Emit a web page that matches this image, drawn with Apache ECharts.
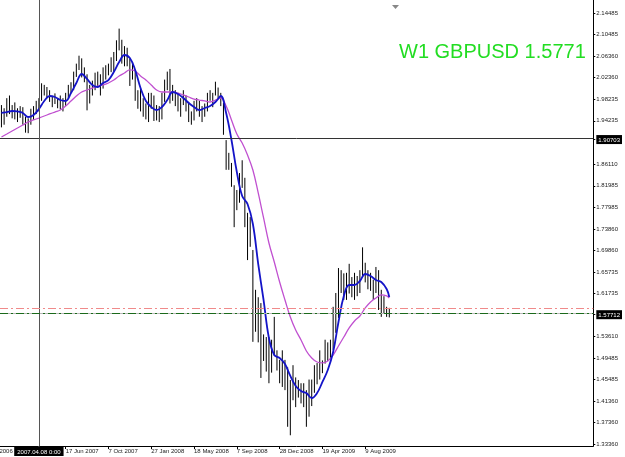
<!DOCTYPE html>
<html><head><meta charset="utf-8">
<script src="https://cdn.jsdelivr.net/npm/echarts@6/dist/echarts.min.js"></script>
<style>html,body{margin:0;padding:0;background:#fff;overflow:hidden}#c{width:625px;height:457px}</style>
</head><body><div id="c"></div>
<script>
// week index 0 = 2007.04.08 (weekly GBPUSD bars)
const firstWeek = -14;
const highs = [1.972,1.966,1.985,1.990,1.972,1.977,1.966,1.970,1.968,1.950,1.947,1.965,1.970,1.980,
1.985,2.013,2.010,2.006,2.000,1.988,1.994,1.985,1.990,1.985,
1.995,2.010,2.015,2.035,2.050,2.065,2.060,2.043,2.030,2.010,
2.018,2.033,2.035,2.030,2.043,2.047,2.050,2.062,2.072,2.094,
2.116,2.095,2.083,2.080,2.060,2.050,2.037,2.000,2.005,1.985,
1.975,1.995,1.995,1.990,1.972,1.970,1.995,2.020,2.035,2.040,
2.010,2.000,1.995,1.985,2.000,1.990,1.978,1.960,1.980,1.985,
1.980,1.970,1.975,1.995,2.000,1.995,2.016,2.005,1.995,1.976,
1.906,1.882,1.863,1.821,1.812,1.844,1.868,1.835,1.769,1.761,
1.699,1.624,1.610,1.599,1.540,1.535,1.535,1.530,1.573,1.510,
1.492,1.510,1.492,1.478,1.454,1.482,1.459,1.454,1.448,1.448,
1.435,1.455,1.455,1.482,1.486,1.510,1.491,1.530,1.525,1.530,
1.592,1.618,1.665,1.661,1.655,1.656,1.673,1.648,1.656,1.650,
1.661,1.704,1.675,1.661,1.656,1.643,1.667,1.661,1.624,1.612,
1.592,1.590];
const lows = [1.930,1.935,1.950,1.955,1.947,1.945,1.940,1.948,1.935,1.920,1.919,1.935,1.944,1.955,
1.960,1.980,1.990,1.985,1.978,1.968,1.974,1.966,1.964,1.960,
1.970,1.985,1.995,2.000,2.025,2.038,2.024,2.015,1.962,1.975,
1.990,2.000,2.005,1.990,2.003,2.020,2.028,2.034,2.035,2.055,
2.075,2.050,2.045,2.045,2.008,2.020,1.980,1.965,1.960,1.950,
1.945,1.940,1.965,1.942,1.943,1.940,1.945,1.978,2.000,1.975,
1.980,1.970,1.960,1.950,1.972,1.960,1.940,1.935,1.943,1.960,
1.950,1.940,1.950,1.960,1.980,1.968,1.990,1.985,1.970,1.916,
1.850,1.850,1.818,1.742,1.774,1.788,1.816,1.742,1.680,1.705,
1.526,1.545,1.525,1.458,1.490,1.470,1.448,1.468,1.500,1.472,
1.448,1.441,1.435,1.366,1.350,1.416,1.403,1.421,1.410,1.403,
1.366,1.385,1.405,1.430,1.446,1.455,1.467,1.485,1.490,1.495,
1.511,1.543,1.571,1.618,1.605,1.605,1.617,1.610,1.605,1.612,
1.618,1.649,1.638,1.625,1.622,1.605,1.618,1.586,1.573,1.580,
1.573,1.572];
const maWeeks = [-14,-12,-10,-8,-6,-4,-2,0,2,4,6,8,10,12,14,16,18,20,22,24,26,28,30,32,34,36,38,40,42,44,46,48,50,52,54,56,58,60,62,64,66,68,70,72,74,76,78,80,82,84,86,88,90,92,94,96,98,100,102,104,106,108,110,112,114,116,118,120,122,124,126,128,130,131];
const blueMA = [1.9571,1.9589,1.9608,1.9599,1.9571,1.9495,1.9533,1.9646,1.9797,1.9891,
1.9872,1.9815,1.9797,1.9947,2.0136,2.0305,2.0211,2.0098,2.0060,2.0136,
2.0192,2.0343,2.0531,2.0663,2.0606,2.0381,2.0041,1.9797,1.9684,1.9627,
1.9684,1.9815,1.9966,1.9928,1.9853,1.9759,1.9684,1.9627,1.9665,1.9702,
1.9778,1.9891,1.9571,1.9062,1.8459,1.8007,1.7856,1.7480,1.6726,1.6048,
1.5332,1.5012,1.4956,1.4843,1.4617,1.4428,1.4334,1.4296,1.4202,1.4296,
1.4504,1.4730,1.5069,1.5634,1.6123,1.6331,1.6331,1.6406,1.6538,1.6500,
1.6425,1.6387,1.6255,1.6105];
const magentaMA = [1.9119,1.9175,1.9232,1.9288,1.9344,1.9401,1.9439,1.9476,1.9514,1.9552,
1.9589,1.9627,1.9702,1.9797,1.9891,1.9966,2.0004,2.0041,2.0079,2.0098,
2.0136,2.0192,2.0267,2.0324,2.0381,2.0362,2.0267,2.0192,2.0098,2.0004,
1.9966,1.9966,1.9966,1.9947,1.9910,1.9872,1.9834,1.9815,1.9797,1.9778,
1.9815,1.9853,1.9702,1.9439,1.9175,1.9005,1.8779,1.8497,1.8064,1.7593,
1.7122,1.6764,1.6387,1.6048,1.5728,1.5483,1.5295,1.5088,1.4956,1.4880,
1.4862,1.4899,1.5012,1.5182,1.5351,1.5521,1.5653,1.5747,1.5898,1.6011,
1.6086,1.6143,1.6124,1.6086];
const xTickWeeks = [-6,10,26,42,58,74,90,106,122];
const xTickLabels = ['25 Feb 2007','17 Jun 2007','7 Oct 2007','27 Jan 2008','18 May 2008','7 Sep 2008','28 Dec 2008','19 Apr 2009','9 Aug 2009'];
const xCutWeek = -22;            // label just left of the visible window
const xCutLabel = '5 Nov 2006';
const yTickValues = [2.14485,2.10485,2.06360,2.02360,1.98235,1.94235,1.90703,1.86110,1.81985,1.77985,1.73860,1.69860,1.65735,1.61735,1.57712,1.53610,1.49485,1.45485,1.41360,1.37360,1.33360];
const yHighlighted = [1.90703,1.57712];
const crossWeek = 0;
const crossLabel = '2007.04.08 0:00';
const crossPrice = 1.90703;
const bidPrice = 1.57712;
const redLevel = 1.5916;
const greenLevel = 1.5765;
const titleText = 'W1 GBPUSD 1.5771';

const FONT = 'Liberation Sans';
const bars = highs.map((h, k) => [firstWeek + k, lows[k], h]);
const blueData = maWeeks.map((w, k) => [w, blueMA[k]]);
const magData = maWeeks.map((w, k) => [w, magentaMA[k]]);

const chart = echarts.init(document.getElementById('c'), null, {renderer: 'canvas'});
chart.setOption({
  animation: false,
  backgroundColor: '#ffffff',
  title: {
    text: titleText, left: 399, top: 42, padding: 0,
    textStyle: {color: '#22dd22', fontSize: 20, fontWeight: 'normal', fontFamily: FONT}
  },
  grid: {left: 0, right: 27, top: 0, bottom: 11, containLabel: false},
  xAxis: {
    type: 'value', min: -14.54, max: 207.27,
    axisLine: {show: true, onZero: false, lineStyle: {color: '#000', width: 1}},
    splitLine: {show: false},
    axisTick: {show: true, customValues: xTickWeeks, length: 3, inside: false, lineStyle: {color: '#000'}},
    axisLabel: {
      customValues: xTickWeeks, align: 'left', margin: 2,
      fontSize: 6, fontFamily: FONT, color: '#222',
      formatter: v => { const k = xTickWeeks.indexOf(v); return k >= 0 ? xTickLabels[k] : ''; }
    }
  },
  yAxis: {
    type: 'value', position: 'right', min: 1.3298, max: 2.1699,
    axisLine: {show: true, onZero: false, lineStyle: {color: '#000', width: 1}},
    splitLine: {show: false},
    axisTick: {show: true, customValues: yTickValues, length: 2, lineStyle: {color: '#000'}},
    axisLabel: {
      customValues: yTickValues, margin: 3,
      fontSize: 6, fontFamily: FONT, color: '#222',
      formatter: v => {
        const s = v.toFixed(5);
        return yHighlighted.some(h => Math.abs(h - v) < 1e-7) ? '{hl|' + s + '}' : s;
      },
      rich: {hl: {backgroundColor: '#000', color: '#fff', fontSize: 6, fontFamily: FONT, padding: [2, 2, 1, 2]}}
    }
  },
  series: [
    {
      type: 'custom', name: 'bars', clip: true, z: 2,
      data: bars,
      encode: {x: 0, y: [1, 2]},
      renderItem: (params, api) => {
        const lo = api.coord([api.value(0), api.value(1)]);
        const hi = api.coord([api.value(0), api.value(2)]);
        return {type: 'line', shape: {x1: lo[0], y1: lo[1], x2: hi[0], y2: hi[1]},
          style: {stroke: '#000', lineWidth: 1}};
      },
      markLine: {
        silent: true, symbol: 'none', animation: false,
        label: {show: false},
        data: [
          {yAxis: crossPrice, lineStyle: {color: '#333', width: 1, type: 'solid'}},
          {xAxis: crossWeek, lineStyle: {color: '#555', width: 1, type: 'solid'}},
          {yAxis: bidPrice, lineStyle: {color: '#b8b8b8', width: 1, type: 'solid'}},
          {yAxis: redLevel, lineStyle: {color: '#f08a8a', width: 1, type: [8, 3, 2, 3]}},
          {yAxis: greenLevel, lineStyle: {color: '#1a6a1a', width: 1, type: [8, 3, 2, 3]}}
        ]
      }
    },
    {
      type: 'line', name: 'MA slow', data: magData, smooth: 0.4, showSymbol: false, clip: true, z: 3,
      lineStyle: {color: '#c050d0', width: 1.3}
    },
    {
      type: 'line', name: 'MA fast', data: blueData, smooth: 0.4, showSymbol: false, clip: true, z: 4,
      lineStyle: {color: '#1414c8', width: 1.8}
    }
  ]
});

// annotations placed through the axis scales
const cx = chart.convertToPixel({xAxisIndex: 0}, crossWeek);
const cutX = chart.convertToPixel({xAxisIndex: 0}, xCutWeek);
const axisY = chart.convertToPixel({yAxisIndex: 0}, 1.3298);
chart.setOption({
  graphic: [
    {type: 'text', x: cutX + 2, y: axisY + 2, z: 90,
      style: {text: xCutLabel, fill: '#222', font: '6px "' + FONT + '"', align: 'left', verticalAlign: 'top'}},
    {type: 'line', z: 95, shape: {x1: cx, y1: axisY, x2: cx, y2: axisY + 3}, style: {stroke: '#555', lineWidth: 1}},
    {type: 'text', x: cx, y: axisY + 1, z: 100,
      style: {text: crossLabel, fill: '#fff', backgroundColor: '#000', padding: [2, 3, 1, 3],
        font: '6px "' + FONT + '"', align: 'center', verticalAlign: 'top'}},
    {type: 'polygon', z: 100, shape: {points: [[392, 5], [399, 5], [395.5, 9]]}, style: {fill: '#888'}}
  ]
});
</script>
</body></html>
